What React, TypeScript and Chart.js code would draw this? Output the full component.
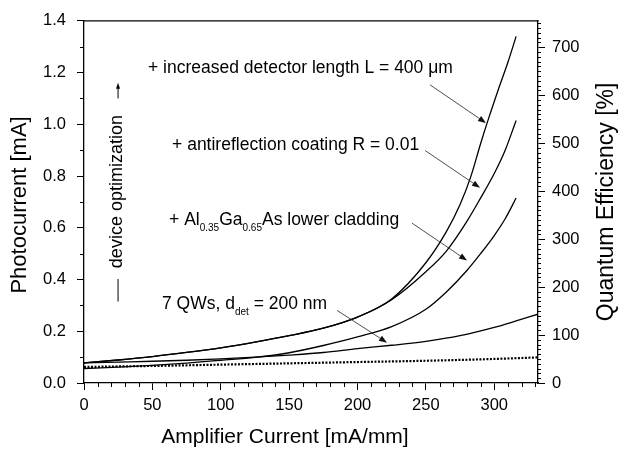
import React, { useEffect, useRef } from 'react';
import { Chart, registerables } from 'chart.js';

Chart.register(...registerables);

const FONT = '"Liberation Sans", Arial, Helvetica, sans-serif';

// axis ranges and tick labels
const X_MAX = 332;
const Y_MAX = 1.4;
const QE_MAX = 755;
const xTickValues = [0, 50, 100, 150, 200, 250, 300];
const yTickValues = [0, 0.2, 0.4, 0.6, 0.8, 1.0, 1.2, 1.4];
const qeTickValues = [0, 100, 200, 300, 400, 500, 600, 700];

// + increased detector length L = 400 um  (x: mA/mm, y: mA)
const lengthX = [0, 25, 50, 75, 100, 125, 150, 175, 200, 225, 250, 265, 275, 283, 290, 296, 303, 310, 316];
const lengthY = [0.078, 0.089, 0.102, 0.118, 0.136, 0.158, 0.183, 0.212, 0.255, 0.325, 0.465, 0.585, 0.69, 0.8, 0.925, 1.025, 1.135, 1.24, 1.34];
// + antireflection coating R = 0.01
const arX = [0, 25, 50, 75, 100, 125, 150, 175, 200, 225, 250, 265, 280, 290, 300, 308, 316];
const arY = [0.078, 0.089, 0.102, 0.118, 0.136, 0.158, 0.183, 0.212, 0.255, 0.322, 0.43, 0.51, 0.625, 0.715, 0.81, 0.9, 1.015];
// + Al0.35Ga0.65As lower cladding
const alX = [0, 25, 50, 75, 100, 125, 150, 175, 200, 225, 250, 265, 280, 290, 300, 308, 316];
const alY = [0.056, 0.061, 0.068, 0.077, 0.088, 0.099, 0.117, 0.145, 0.178, 0.218, 0.285, 0.352, 0.435, 0.5, 0.57, 0.635, 0.715];
// 7 QWs, d_det = 200 nm
const qwX = [0, 25, 50, 75, 100, 125, 150, 175, 200, 225, 250, 275, 300, 316, 332];
const qwY = [0.078, 0.081, 0.084, 0.088, 0.093, 0.1, 0.108, 0.118, 0.133, 0.146, 0.161, 0.183, 0.215, 0.24, 0.266];
// dotted reference curve
const dotX = [0, 50, 100, 150, 200, 250, 300, 332];
const dotY = [0.062, 0.066, 0.071, 0.076, 0.081, 0.086, 0.093, 0.099];

const pts = (xs: number[], ys: number[]) => xs.map((x, i) => ({ x, y: ys[i] }));

type Seg = { t: string; sub?: boolean };

function drawRich(ctx: CanvasRenderingContext2D, segs: Seg[], x: number, y: number, size: number, subSize: number, subDrop: number) {
  let cx = x;
  ctx.textAlign = 'left';
  ctx.textBaseline = 'alphabetic';
  for (const s of segs) {
    ctx.font = `${s.sub ? subSize : size}px ${FONT}`;
    ctx.fillText(s.t, cx, s.sub ? y + subDrop : y);
    cx += ctx.measureText(s.t).width;
  }
}

function arrow(ctx: CanvasRenderingContext2D, x1: number, y1: number, x2: number, y2: number, head = 8, w = 3) {
  const a = Math.atan2(y2 - y1, x2 - x1);
  ctx.beginPath();
  ctx.moveTo(x1, y1);
  ctx.lineTo(x2 - head * 0.8 * Math.cos(a), y2 - head * 0.8 * Math.sin(a));
  ctx.stroke();
  ctx.beginPath();
  ctx.moveTo(x2, y2);
  ctx.lineTo(x2 - head * Math.cos(a) + w * Math.sin(a), y2 - head * Math.sin(a) - w * Math.cos(a));
  ctx.lineTo(x2 - head * Math.cos(a) - w * Math.sin(a), y2 - head * Math.sin(a) + w * Math.cos(a));
  ctx.closePath();
  ctx.fill();
}

function vText(ctx: CanvasRenderingContext2D, text: string, x: number, y: number, size: number) {
  ctx.save();
  ctx.translate(x, y);
  ctx.rotate(-Math.PI / 2);
  ctx.font = `${size}px ${FONT}`;
  ctx.textAlign = 'center';
  ctx.textBaseline = 'middle';
  ctx.fillText(text, 0, 0);
  ctx.restore();
}

const decorPlugin = {
  id: 'decor',
  afterDraw(chart: any) {
    const { ctx, chartArea, scales } = chart;
    const xs = scales.x, ys = scales.y, qs = scales.y2;
    const px = (v: number) => xs.getPixelForValue(v);
    const py = (v: number) => ys.getPixelForValue(v);
    ctx.save();
    ctx.strokeStyle = '#000';
    ctx.fillStyle = '#000';
    // top frame
    ctx.lineWidth = 1.2;
    ctx.beginPath();
    ctx.moveTo(chartArea.left, chartArea.top);
    ctx.lineTo(chartArea.right + 0.5, chartArea.top);
    ctx.stroke();
    // minor ticks
    ctx.lineWidth = 1;
    ctx.beginPath();
    for (let v = 10; v <= X_MAX; v += 10) {
      if (v % 50 === 0) continue;
      const x = Math.round(px(v)) + 0.5;
      ctx.moveTo(x, chartArea.bottom);
      ctx.lineTo(x, chartArea.bottom + 4);
    }
    for (let i = 1; i < 14; i += 2) {
      const y = Math.round(py(i / 10)) + 0.5;
      ctx.moveTo(chartArea.left, y);
      ctx.lineTo(chartArea.left - 4, y);
    }
    for (let v = 10; v <= QE_MAX; v += 10) {
      if (v % 100 === 0) continue;
      const y = Math.round(qs.getPixelForValue(v)) + 0.5;
      ctx.moveTo(chartArea.right, y);
      ctx.lineTo(chartArea.right + 3, y);
    }
    ctx.stroke();

    // axis titles
    const midY = (chartArea.top + chartArea.bottom) / 2;
    vText(ctx, 'Photocurrent [mA]', 20, midY + 3, 22);
    vText(ctx, 'Quantum Efficiency [%]', 607, midY, 23);
    ctx.font = `21px ${FONT}`;
    ctx.textAlign = 'center';
    ctx.textBaseline = 'alphabetic';
    ctx.fillText('Amplifier Current [mA/mm]', px(147), 443);

    // annotations
    drawRich(ctx, [{ t: '+ increased detector length L = 400 μm' }], px(46.8), py(1.199), 17.5, 10, 6);
    drawRich(ctx, [{ t: '+ antireflection coating R = 0.01' }], px(64.4), py(0.899), 17.5, 10, 6);
    drawRich(ctx, [{ t: '+ Al' }, { t: '0.35', sub: true }, { t: 'Ga' }, { t: '0.65', sub: true }, { t: 'As lower cladding' }], px(62.2), py(0.611), 17.5, 10, 6);
    drawRich(ctx, [{ t: '7 QWs, d' }, { t: 'det', sub: true }, { t: ' = 200 nm' }], px(57.0), py(0.2846), 17.5, 10, 6);

    // device optimization marker
    vText(ctx, 'device optimization', px(24.5), py(0.74), 18);
    ctx.lineWidth = 1;
    arrow(ctx, px(24.9), py(1.1), px(24.9), py(1.161), 6, 2);
    ctx.beginPath();
    ctx.moveTo(px(24.9), py(0.402));
    ctx.lineTo(px(24.9), py(0.315));
    ctx.stroke();

    // pointer arrows
    ctx.lineWidth = 0.8;
    ctx.strokeStyle = '#222';
    ctx.fillStyle = '#111';
    arrow(ctx, px(253.0), py(1.153), px(294.0), py(1.005));
    arrow(ctx, px(249.4), py(0.899), px(289.6), py(0.755));
    arrow(ctx, px(239.9), py(0.618), px(280.1), py(0.474));
    arrow(ctx, px(185.0), py(0.281), px(221.6), py(0.156));
    ctx.restore();
  },
};

export default function App() {
  const ref = useRef<HTMLCanvasElement>(null);
  useEffect(() => {
    if (!ref.current) return;
    const solid = { borderColor: '#000', borderWidth: 1.3, pointRadius: 0, cubicInterpolationMode: 'monotone' as const, fill: false };
    const axisCommon = {
      grid: { drawOnChartArea: false, drawTicks: true, tickLength: 7, tickColor: '#000', tickWidth: 1 },
      border: { display: true, color: '#000', width: 1.3 },
    };
    const chart = new Chart(ref.current, {
      type: 'line',
      data: {
        datasets: [
          { label: 'L = 400 um', data: pts(lengthX, lengthY), ...solid },
          { label: 'AR R = 0.01', data: pts(arX, arY), ...solid },
          { label: 'AlGaAs cladding', data: pts(alX, alY), ...solid },
          { label: '7 QWs', data: pts(qwX, qwY), ...solid },
          { label: 'dotted', data: pts(dotX, dotY), ...solid, borderWidth: 2.2, borderDash: [2, 1.5] },
        ],
      },
      options: {
        animation: false,
        responsive: false,
        devicePixelRatio: 1,
        layout: { padding: { top: 14, left: 0, right: 0, bottom: 0 } },
        plugins: { legend: { display: false }, tooltip: { enabled: false } },
        scales: {
          x: {
            type: 'linear',
            min: 0,
            max: X_MAX,
            afterBuildTicks: (s: any) => { s.ticks = xTickValues.map((v) => ({ value: v })); },
            afterFit: (s: any) => { s.height = 69; },
            ticks: { color: '#000', font: { family: FONT, size: 16.5 }, padding: 6, maxRotation: 0 },
            ...axisCommon,
          },
          y: {
            type: 'linear',
            position: 'left',
            min: 0,
            max: Y_MAX,
            afterBuildTicks: (s: any) => { s.ticks = yTickValues.map((v) => ({ value: v })); },
            afterFit: (s: any) => { s.width = 84; },
            ticks: { color: '#000', font: { family: FONT, size: 16.5 }, padding: 11, callback: (v: any) => Number(v).toFixed(1) },
            ...axisCommon,
          },
          y2: {
            type: 'linear',
            position: 'right',
            min: 0,
            max: QE_MAX,
            afterBuildTicks: (s: any) => { s.ticks = qeTickValues.map((v) => ({ value: v })); },
            afterFit: (s: any) => { s.width = 80; },
            ticks: { color: '#000', font: { family: FONT, size: 16.5 }, padding: 7 },
            ...axisCommon,
          },
        },
      },
      plugins: [decorPlugin],
    } as any);
    return () => chart.destroy();
  }, []);
  return (
    <div style={{ position: 'fixed', left: 0, top: 0, width: 618, height: 452, background: '#fff' }}>
      <canvas ref={ref} width={618} height={452} style={{ width: 618, height: 452, display: 'block' }} />
    </div>
  );
}
